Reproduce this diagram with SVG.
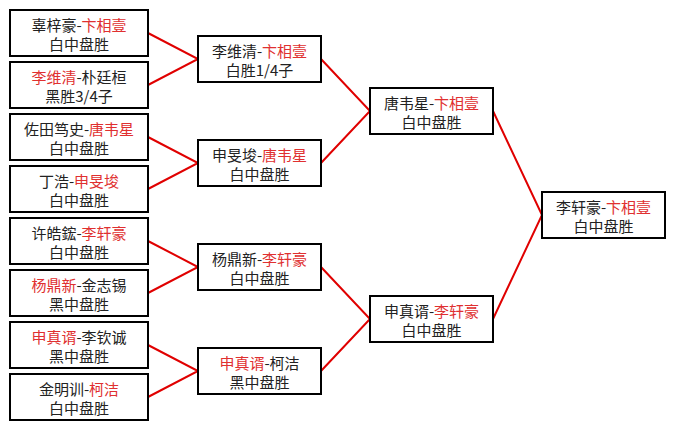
<svg xmlns="http://www.w3.org/2000/svg" width="675" height="429" viewBox="0 0 675 429">
<style>
.b{fill:#fff;stroke:#000;stroke-width:2}
.t{font-family:"Noto Sans CJK SC","Noto Sans",sans-serif;font-size:15px;fill:#222;text-anchor:middle}
.r{fill:#e03030}
.c{stroke:#e00000;stroke-width:2;fill:none}
</style>
<rect width="675" height="429" fill="#fff"/>
<g id="connectors">
<path class="c" d="M148,33 L198,59 L148,85"/>
<path class="c" d="M148,137 L198,163 L148,189"/>
<path class="c" d="M148,241 L198,267 L148,293"/>
<path class="c" d="M148,345 L198,371 L148,397"/>
<path class="c" d="M321,59 L370,111 L321,163"/>
<path class="c" d="M321,267 L370,319 L321,371"/>
<path class="c" d="M493,111 L542,215 L493,319"/>
</g>
<g id="n1"><rect class="b" x="10" y="10" width="138" height="46"/><text class="t" x="79" y="31">辜梓豪-<tspan class="r">卞相壹</tspan></text><text class="t" x="79" y="50">白中盘胜</text></g>
<g id="n2"><rect class="b" x="10" y="62" width="138" height="46"/><text class="t" x="79" y="83"><tspan class="r">李维清</tspan>-朴廷桓</text><text class="t" x="79" y="102">黑胜3/4子</text></g>
<g id="n3"><rect class="b" x="10" y="114" width="138" height="46"/><text class="t" x="79" y="135">佐田笃史-<tspan class="r">唐韦星</tspan></text><text class="t" x="79" y="154">白中盘胜</text></g>
<g id="n4"><rect class="b" x="10" y="166" width="138" height="46"/><text class="t" x="79" y="187">丁浩-<tspan class="r">申旻埈</tspan></text><text class="t" x="79" y="206">白中盘胜</text></g>
<g id="n5"><rect class="b" x="10" y="218" width="138" height="46"/><text class="t" x="79" y="239">许皓鋐-<tspan class="r">李轩豪</tspan></text><text class="t" x="79" y="258">白中盘胜</text></g>
<g id="n6"><rect class="b" x="10" y="270" width="138" height="46"/><text class="t" x="79" y="291"><tspan class="r">杨鼎新</tspan>-金志锡</text><text class="t" x="79" y="310">黑中盘胜</text></g>
<g id="n7"><rect class="b" x="10" y="322" width="138" height="46"/><text class="t" x="79" y="343"><tspan class="r">申真谞</tspan>-李钦诚</text><text class="t" x="79" y="362">黑中盘胜</text></g>
<g id="n8"><rect class="b" x="10" y="374" width="138" height="46"/><text class="t" x="79" y="395">金明训-<tspan class="r">柯洁</tspan></text><text class="t" x="79" y="414">白中盘胜</text></g>
<g id="m1"><rect class="b" x="198" y="36" width="123" height="46"/><text class="t" x="259.5" y="57">李维清-<tspan class="r">卞相壹</tspan></text><text class="t" x="259.5" y="76">白胜1/4子</text></g>
<g id="m2"><rect class="b" x="198" y="140" width="123" height="46"/><text class="t" x="259.5" y="161">申旻埈-<tspan class="r">唐韦星</tspan></text><text class="t" x="259.5" y="180">白中盘胜</text></g>
<g id="m3"><rect class="b" x="198" y="244" width="123" height="46"/><text class="t" x="259.5" y="265">杨鼎新-<tspan class="r">李轩豪</tspan></text><text class="t" x="259.5" y="284">白中盘胜</text></g>
<g id="m4"><rect class="b" x="198" y="348" width="123" height="46"/><text class="t" x="259.5" y="369"><tspan class="r">申真谞</tspan>-柯洁</text><text class="t" x="259.5" y="388">黑中盘胜</text></g>
<g id="s1"><rect class="b" x="370" y="88" width="123" height="46"/><text class="t" x="431.5" y="109">唐韦星-<tspan class="r">卞相壹</tspan></text><text class="t" x="431.5" y="128">白中盘胜</text></g>
<g id="s2"><rect class="b" x="370" y="296" width="123" height="46"/><text class="t" x="431.5" y="317">申真谞-<tspan class="r">李轩豪</tspan></text><text class="t" x="431.5" y="336">白中盘胜</text></g>
<g id="f"><rect class="b" x="542" y="192" width="123" height="46"/><text class="t" x="603.5" y="213">李轩豪-<tspan class="r">卞相壹</tspan></text><text class="t" x="603.5" y="232">白中盘胜</text></g>
</svg>
